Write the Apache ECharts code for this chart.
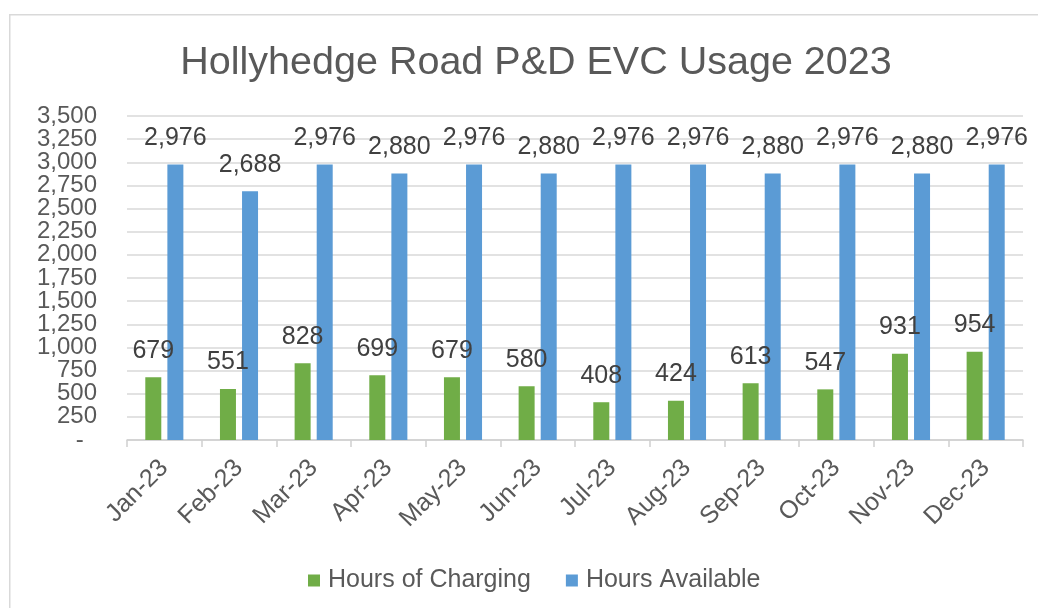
<!DOCTYPE html>
<html>
<head>
<meta charset="utf-8">
<script src="https://cdn.jsdelivr.net/npm/echarts@6/dist/echarts.min.js"></script>
<style>html,body{margin:0;padding:0;background:#fff;}#c{width:1038px;height:608px;}</style>
</head>
<body>
<div id="c"></div>
<script>
const categories = ['Jan-23','Feb-23','Mar-23','Apr-23','May-23','Jun-23','Jul-23','Aug-23','Sep-23','Oct-23','Nov-23','Dec-23'];
const hoursCharging = [679, 551, 828, 699, 679, 580, 408, 424, 613, 547, 931, 954];
const hoursAvailable = [2976, 2688, 2976, 2880, 2976, 2880, 2976, 2976, 2880, 2976, 2880, 2976];
const seriesNames = ['Hours of Charging', 'Hours Available'];
const titleText = 'Hollyhedge Road P&D EVC Usage 2023';
const yMin = 0, yMax = 3500, yStep = 250;

const FONT = '"Liberation Sans", Arial, sans-serif';
const fmt = v => v === 0 ? '-  ' : Number(v).toLocaleString('en-US');
const yLabelStyle = {margin: 30, fontFamily: FONT, fontSize: 24, color: '#595959'};

const chart = echarts.init(document.getElementById('c'), null, {renderer: 'canvas'});
chart.setOption({
  animation: false,
  backgroundColor: '#ffffff',
  graphic: [{
    type: 'rect', left: 9, top: 14, z: -10,
    shape: {x: 0, y: 0, width: 1100, height: 700},
    style: {fill: '#ffffff', stroke: '#d9d9d9', lineWidth: 1.5}
  }],
  title: {
    text: titleText, left: 531, top: 38, textAlign: 'center',
    textStyle: {fontFamily: FONT, fontSize: 39.5, fontWeight: 'normal', color: '#595959'}
  },
  legend: {
    data: seriesNames, left: 303, top: 563,
    itemWidth: 12, itemHeight: 12, itemGap: 35, icon: 'rect',
    textStyle: {fontFamily: FONT, fontSize: 25, color: '#595959', padding: [0,0,0,3]}
  },
  grid: {left: 127, right: 15, top: 116, bottom: 168, containLabel: false},
  xAxis: {
    type: 'category', data: categories,
    axisLine: {lineStyle: {color: '#d0d0d0', width: 1.5}},
    axisTick: {show: true, length: 7, lineStyle: {color: '#d0d0d0', width: 1.5}},
    axisLabel: {rotate: 45, margin: 24, fontFamily: FONT, fontSize: 25, color: '#595959', interval: 0}
  },
  yAxis: [
    {
      type: 'value', min: yMin, max: yMax, interval: yStep, position: 'left',
      axisLine: {show: false}, axisTick: {show: false},
      splitLine: {lineStyle: {color: '#d9d9d9', width: 1.5}},
      axisLabel: Object.assign({}, yLabelStyle, {formatter: fmt, showMinLabel: false, showMaxLabel: false})
    },
    {
      type: 'value', min: yMin, max: yMax, interval: yStep, position: 'left', offset: 0,
      axisLine: {show: false}, axisTick: {show: false}, splitLine: {show: false},
      axisLabel: Object.assign({}, yLabelStyle, {
        formatter: v => (v === yMin || v === yMax) ? fmt(v) : '',
        showMinLabel: true, showMaxLabel: true})
    }
  ],
  series: [
    {
      name: seriesNames[0], type: 'bar', data: hoursCharging, barWidth: 16, barGap: '38%',
      itemStyle: {color: '#70AD47'},
      label: {show: true, position: 'top', distance: 14, fontFamily: FONT, fontSize: 25, color: '#404040', formatter: p => fmt(p.value)}
    },
    {
      name: seriesNames[1], type: 'bar', data: hoursAvailable, barWidth: 16, barGap: '38%',
      itemStyle: {color: '#5B9BD5'},
      label: {show: true, position: 'top', distance: 14, fontFamily: FONT, fontSize: 25, color: '#404040', formatter: p => fmt(p.value)}
    }
  ]
});
</script>
</body>
</html>
